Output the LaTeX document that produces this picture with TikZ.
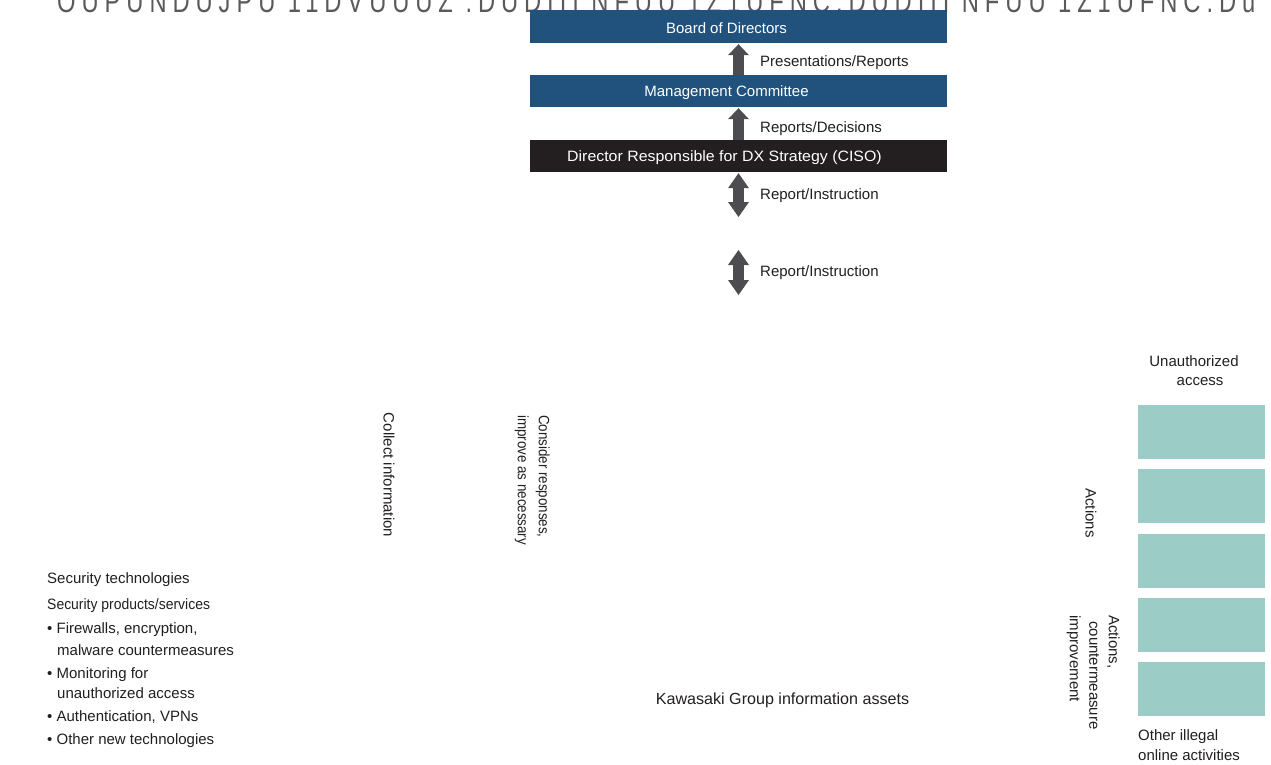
\documentclass[tikz,border=0pt]{standalone}
\usepackage{fontspec}
\setmainfont{Liberation Sans}
\usetikzlibrary{arrows.meta}
\definecolor{kblue}{RGB}{33,82,126}
\definecolor{kblack}{RGB}{35,31,32}
\definecolor{kteal}{RGB}{155,205,198}
\definecolor{kgray}{RGB}{77,77,79}
\definecolor{ktext}{RGB}{35,31,32}
\definecolor{ktop}{RGB}{90,90,90}
\begin{document}
\begin{tikzpicture}[x=1pt,y=-1pt,
  lbl/.style={font=\fontsize{15}{19}\selectfont, text=ktext, inner sep=0pt},
  topbox/.style={minimum width=417pt, inner sep=0pt},
  boxtext/.style={font=\fontsize{15}{18}\selectfont, text=white, inner sep=0pt},
  tealbox/.style={fill=kteal, minimum width=127pt, minimum height=54pt, inner sep=0pt},
  uparrow/.style={kgray, line width=11pt, -{Triangle[width=21pt,length=11pt,line width=0pt]}},
  dblarrow/.style={kgray, line width=11pt, {Triangle[width=21pt,length=15pt,line width=0pt]}-{Triangle[width=21pt,length=15pt,line width=0pt]}},
]
\useasboundingbox[fill=white] (0,0) rectangle (1271,764);

% clipped text at the top edge
\node[anchor=base west, inner sep=0pt, text=ktop] (toptext) at (57,12)
  {\resizebox{1198pt}{22pt}{\addfontfeature{LetterSpace=25}OUPUNDUJPU 11DVUUUZ .DUDIII NFUU 1Z1UFNC.DUDIII NFUU 1Z1UFNC.Du}};

% hierarchy boxes
\node[topbox, minimum height=33pt, fill=kblue,
  label={[boxtext, xshift=-12pt, yshift=-1.5pt]center:Board of Directors}] (board) at (738.5,26.5) {};
\node[topbox, minimum height=32pt, fill=kblue,
  label={[boxtext, xshift=-12pt, yshift=-1.5pt]center:Management Committee}] (mgmt) at (738.5,91) {};
\node[topbox, minimum height=32pt, fill=kblack,
  label={[boxtext, xshift=-14pt, yshift=-1.5pt]center:\scalebox{1.06}[1]{Director Responsible for DX Strategy (CISO)}}] (ciso) at (738.5,156) {};

% arrows
\draw[uparrow] (mgmt.north) -- ([yshift=-1pt]board.south);
\draw[uparrow] (ciso.north) -- ([yshift=-1pt]mgmt.south);
\coordinate (d1end) at (738.5,217);
\draw[dblarrow] ([yshift=-1pt]ciso.south) -- (d1end);
\coordinate (d2top) at (738.5,250);
\coordinate (d2end) at (738.5,295);
\draw[dblarrow] (d2top) -- (d2end);

\node[lbl, anchor=west] (l1) at (760,63) {Presentations/Reports};
\node[lbl, anchor=west] (l2) at (760,129) {Reports/Decisions};
\node[lbl, anchor=west] (l3) at (760,196) {Report/Instruction};
\node[lbl, anchor=west] (l4) at (760,273) {Report/Instruction};

% right side
\node[lbl, align=center] (unauth) at (1194,371) {Unauthorized\\\hspace*{12pt}access};
\node[tealbox] (t1) at (1201.5,432) {};
\node[tealbox] (t2) at (1201.5,496) {};
\node[tealbox] (t3) at (1201.5,561) {};
\node[tealbox] (t4) at (1201.5,625) {};
\node[tealbox] (t5) at (1201.5,689) {};
\node[lbl, font=\fontsize{15}{20}\selectfont, align=left, anchor=north west] (other) at (1138,729) {Other illegal\\online activities};

\node[lbl, rotate=-90] (actions) at (1091,513) {Actions};
\node[lbl, font=\fontsize{15}{19.5}\selectfont, rotate=-90, align=left, anchor=north west] (actimp) at (1120,615)
  {Actions,\\\hspace*{6pt}countermeasure\\improvement};

% middle rotated labels
\node[lbl, rotate=-90] (collect) at (389,475) {Collect information};
\node[lbl, font=\fontsize{15}{21}\selectfont, rotate=-90, align=left, anchor=north west] (consider) at (550,415)
  {\scalebox{0.89}[1]{Consider responses,}\\\scalebox{0.89}[1]{improve as necessary}};

\node[lbl, font=\fontsize{16.1}{19}\selectfont] (assets) at (782.5,700) {Kawasaki Group information assets};

% left text block
\node[lbl, anchor=west] (s1) at (47,580) {Security technologies};
\node[lbl, anchor=west] (s2) at (47,606) {\scalebox{0.93}[1]{Security products/services}};
\node[lbl, anchor=west] (s3) at (47,630) {• Firewalls, encryption,};
\node[lbl, anchor=west] (s3b) at (57,650) {malware countermeasures};
\node[lbl, anchor=west] (s4) at (47,675) {• Monitoring for};
\node[lbl, anchor=west] (s4b) at (57,693) {unauthorized access};
\node[lbl, anchor=west] (s5) at (47,717) {• Authentication, VPNs};
\node[lbl, anchor=west] (s6) at (47,741) {• Other new technologies};
\end{tikzpicture}
\end{document}
